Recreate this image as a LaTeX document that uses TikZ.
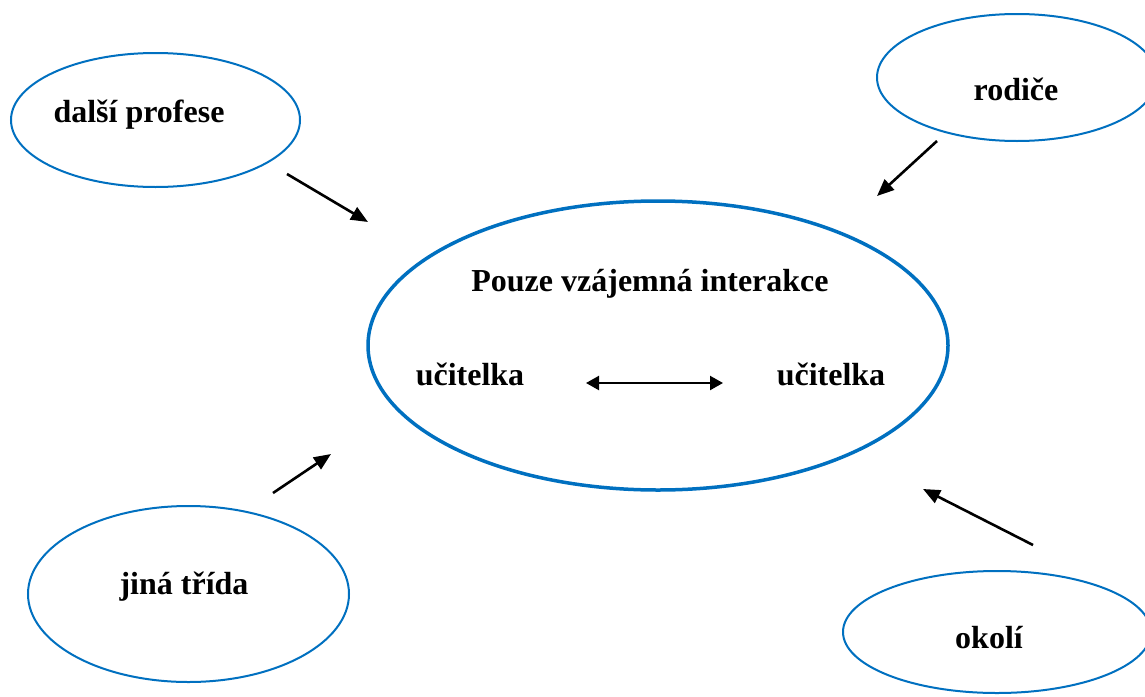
\documentclass[tikz,border=0pt]{standalone}
\usepackage{fontspec}
\setmainfont{Liberation Serif}
\usetikzlibrary{shapes.geometric,arrows.meta}
\definecolor{ellblue}{HTML}{0070C0}
\tikzset{
  oval/.style={ellipse, draw=ellblue, line width=2pt, inner sep=0pt, fill=none},
  bigoval/.style={oval, line width=3.5pt},
  lbl/.style={anchor=base, inner sep=0pt, font=\fontsize{32}{38}\selectfont\bfseries},
  conn/.style={line width=2.6pt, -{Triangle[length=17pt,width=14pt]}},
  dconn/.style={line width=2.2pt, {Triangle[length=13pt,width=14pt]}-{Triangle[length=13pt,width=14pt]}}
}
\begin{document}
\begin{tikzpicture}[x=1pt,y=-1pt]
\path[use as bounding box, clip] (0,0) rectangle (1145,696);
\fill[white] (0,0) rectangle (1145,696);
% ellipses
\node[oval, minimum width=289pt, minimum height=134pt] (profese) at (155.5,120) {};
\node[oval, minimum width=280pt, minimum height=127pt] (rodice) at (1017,77.5) {};
\node[bigoval, minimum width=580pt, minimum height=289pt] (main) at (658,345.5) {};
\node[oval, minimum width=321pt, minimum height=176pt] (trida) at (188.5,594) {};
\node[oval, minimum width=308pt, minimum height=122pt] (okoli) at (997,632) {};
% labels
\node[lbl] (tprofese) at (139,122) {další profese};
\node[lbl] (trodice) at (1016,100) {rodiče};
\node[lbl] (tmain) at (650,291) {Pouze vzájemná interakce};
\node[lbl] (tu1) at (470,385) {učitelka};
\node[lbl] (tu2) at (831,385) {učitelka};
\node[lbl] (ttrida) at (184,594) {jiná třída};
\node[lbl] (tokoli) at (989,648) {okolí};
% connector end points
\coordinate (a1s) at (287,174);
\coordinate (a1e) at (368,222);
\coordinate (a2s) at (937,141);
\coordinate (a2e) at (877,196);
\coordinate (a3s) at (273,493);
\coordinate (a3e) at (331,454);
\coordinate (a4s) at (1033,545);
\coordinate (a4e) at (923,489);
\coordinate (d1) at (586,383);
\coordinate (d2) at (723,383);
% connectors
\draw[conn] (a1s) -- (a1e);
\draw[conn] (a2s) -- (a2e);
\draw[conn] (a3s) -- (a3e);
\draw[conn] (a4s) -- (a4e);
\draw[dconn] (d1) -- (d2);
\end{tikzpicture}
\end{document}
